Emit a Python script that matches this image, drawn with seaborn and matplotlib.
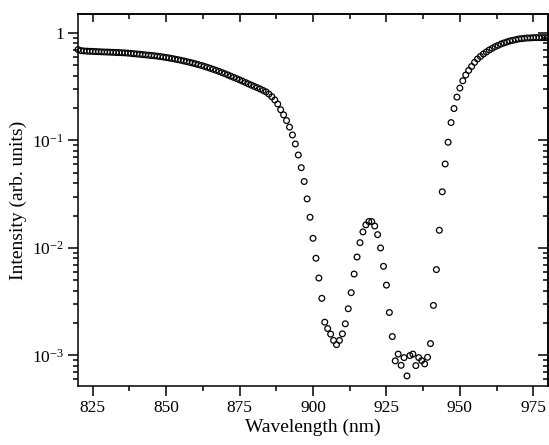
import matplotlib
matplotlib.use("Agg")
import matplotlib.pyplot as plt
import seaborn as sns
import numpy as np
import pandas as pd
from matplotlib.ticker import FixedLocator, FixedFormatter, MultipleLocator, NullFormatter, LogLocator

# ---- data ----
wavelength = list(range(820, 981))  # nm, 1 nm steps

intensity_820_888 = [
    0.700, 0.685, 0.680, 0.677, 0.675, 0.673, 0.671, 0.669, 0.667, 0.665,
    0.664, 0.662, 0.660, 0.658, 0.656, 0.654, 0.652, 0.649, 0.645, 0.641,
    0.637, 0.633, 0.629, 0.625, 0.621, 0.617, 0.613, 0.608, 0.603, 0.597,
    0.591, 0.585, 0.578, 0.571, 0.564, 0.557, 0.549, 0.541, 0.533, 0.525,
    0.516, 0.507, 0.498, 0.489, 0.479, 0.469, 0.459, 0.449, 0.439, 0.428,
    0.418, 0.407, 0.396, 0.386, 0.376, 0.366, 0.356, 0.346, 0.336, 0.327,
    0.318, 0.310, 0.301, 0.292, 0.283, 0.270, 0.255, 0.238, 0.218,
]
intensity_889_944 = [
    0.193, 0.173, 0.153, 0.133, 0.1125, 0.0927, 0.0732, 0.0558, 0.0415, 0.0286,
    0.0193, 0.0123, 0.00802, 0.00525, 0.00340, 0.00204, 0.00178, 0.00158, 0.00138, 0.00126,
    0.00138, 0.00159, 0.00197, 0.00272, 0.00384, 0.00572, 0.00824, 0.0112, 0.0141, 0.0164,
    0.0176, 0.0176, 0.0160, 0.0133, 0.0100, 0.00675, 0.00451, 0.00251, 0.00150, 0.000891,
    0.00103, 0.000810, 0.000955, 0.000645, 0.000998, 0.00103, 0.000805, 0.000955, 0.000896, 0.000835,
    0.000962, 0.00129, 0.00292, 0.00629, 0.0146, 0.0333,
]
intensity_945_980 = [
    0.0604, 0.0962, 0.1466, 0.198, 0.253, 0.307, 0.359, 0.406, 0.448, 0.488,
    0.532, 0.572, 0.605, 0.637, 0.665, 0.694, 0.719, 0.745, 0.766, 0.789,
    0.807, 0.824, 0.842, 0.853, 0.866, 0.879, 0.885, 0.891, 0.898, 0.898,
    0.904, 0.904, 0.904, 0.904, 0.904, 0.904,
]
intensity = intensity_820_888 + intensity_889_944 + intensity_945_980

x_ticks = [825, 850, 875, 900, 925, 950, 975]
y_ticks = [1e-3, 1e-2, 1e-1, 1]
y_tick_labels = [r"10$^{-3}$", r"10$^{-2}$", r"10$^{-1}$", "1"]

df = pd.DataFrame({"Wavelength": wavelength, "Intensity": intensity})

# ---- style ----
sns.set_style("ticks")
plt.rcParams["font.family"] = ["Liberation Serif", "DejaVu Serif"]
plt.rcParams["mathtext.fontset"] = "custom"
plt.rcParams["mathtext.rm"] = "Liberation Serif"
plt.rcParams["mathtext.it"] = "Liberation Serif:italic"
plt.rcParams["mathtext.bf"] = "Liberation Serif:bold"
for k in ["text.color", "axes.labelcolor", "xtick.color", "ytick.color", "axes.edgecolor"]:
    plt.rcParams[k] = "black"

fig = plt.figure(figsize=(5.49, 4.45), dpi=100)
ax = fig.add_axes([78 / 549, (445 - 386) / 445, (548 - 78) / 549, (386 - 14) / 445])

sns.scatterplot(data=df, x="Wavelength", y="Intensity", ax=ax, marker="o",
                s=17, color="black", facecolor="none", edgecolor="black",
                linewidth=0.9, legend=False, zorder=3, clip_on=False)

ax.set_yscale("log")
ax.set_xlim(820, 980)
ax.set_ylim(5.2e-4, 1.5)

lw = 1.1
for sp in ax.spines.values():
    sp.set_linewidth(lw)
    sp.set_color("black")

# bottom/left ticks (outward)
ax.xaxis.set_major_locator(FixedLocator(x_ticks))
ax.xaxis.set_minor_locator(MultipleLocator(12.5))
ax.yaxis.set_major_locator(FixedLocator(y_ticks))
ax.yaxis.set_major_formatter(FixedFormatter(y_tick_labels))
ax.yaxis.set_minor_locator(LogLocator(base=10, subs=np.arange(2, 10)))
ax.yaxis.set_minor_formatter(NullFormatter())
ax.tick_params(axis="both", which="major", direction="out", length=7, width=lw,
               labelsize=12.5, colors="black", pad=3)
ax.tick_params(axis="both", which="minor", direction="out", length=3.5, width=lw, colors="black")
ax.tick_params(top=False, right=False)

# top/right ticks (inward)
secx = ax.secondary_xaxis("top")
secx.xaxis.set_major_locator(FixedLocator(x_ticks))
secx.xaxis.set_minor_locator(MultipleLocator(12.5))
secx.tick_params(axis="x", which="major", direction="in", length=6, width=lw, labeltop=False, colors="black")
secx.tick_params(axis="x", which="minor", direction="in", length=3.5, width=lw, colors="black")
secx.spines["top"].set_linewidth(lw)
secx.spines["top"].set_color("black")

secy = ax.secondary_yaxis("right")
secy.yaxis.set_major_locator(FixedLocator(y_ticks))
secy.yaxis.set_minor_locator(LogLocator(base=10, subs=np.arange(2, 10)))
secy.yaxis.set_minor_formatter(NullFormatter())
secy.tick_params(axis="y", which="major", direction="in", length=7, width=lw, labelright=False, colors="black")
secy.tick_params(axis="y", which="minor", direction="in", length=3.5, width=lw, colors="black")
secy.spines["right"].set_linewidth(lw)
secy.spines["right"].set_color("black")

ax.set_xlabel("Wavelength (nm)", fontsize=14, labelpad=2, color="black")
ax.set_ylabel("Intensity (arb. units)", fontsize=14, labelpad=4, color="black")

fig.savefig("out.png", dpi=100)
